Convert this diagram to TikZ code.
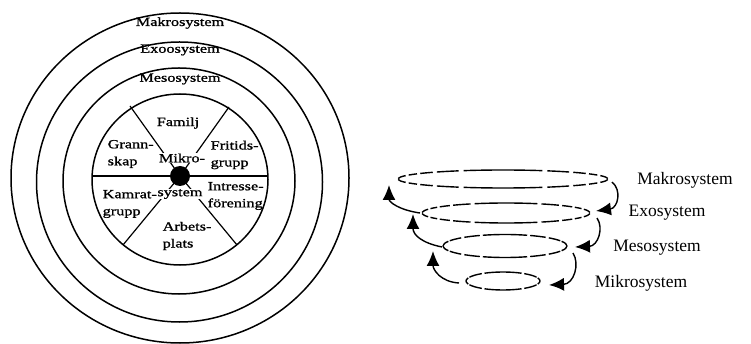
\documentclass[tikz,border=0pt]{standalone}
\usepackage{fontspec}
\setmainfont{Liberation Serif}
\newfontfamily\widefont[FakeStretch=1.3,FakeBold=1.2]{Liberation Serif}
\usetikzlibrary{arrows.meta}
\newcommand\dashedell[4]{% center, rx, ry, list of upper-half intervals a/b
  \foreach \p/\q in {#4} {
    \draw[ell] (#1) ++(\p:#2 and #3) arc[start angle=\p, end angle=\q, x radius=#2, y radius=#3];
    \draw[ell] (#1) ++(-\q:#2 and #3) arc[start angle=-\q, end angle=-\p, x radius=#2, y radius=#3];
  }}
\begin{document}
\begin{tikzpicture}[x=1pt,y=-1pt,
  ring/.style={line width=1.5pt},
  spoke/.style={line width=1.2pt},
  lbl/.style={font=\widefont\fontsize{12.5}{17}\selectfont, inner sep=0.5pt, align=left},
  rlbl/.style={font=\fontsize{17.5}{20}\selectfont, inner sep=0pt},
  ell/.style={line width=1.4pt},
  arr/.style={line width=1.4pt, -{Latex[length=15pt,width=13pt]}}]
\useasboundingbox (0,0) rectangle (751,344);
% ---- left: concentric rings ----
\coordinate (cmak) at (180,178);
\coordinate (cexo) at (179.5,182);
\coordinate (cmes) at (179,181);
\coordinate (cin) at (180,179.5);
\coordinate (hub) at (180,176);
\draw[ring] (cmak) ellipse [x radius=169pt, y radius=165pt];
\draw[ring] (cexo) ellipse [x radius=143pt, y radius=140pt];
\draw[ring] (cmes) ellipse [x radius=116pt, y radius=113pt];
\draw[ring] (cin) ellipse [x radius=88pt, y radius=85.5pt];
\coordinate (hl) at (92,176);
\coordinate (hr) at (268,176);
\coordinate (ul) at (130,106);
\coordinate (ur) at (229,107);
\coordinate (ll) at (123,245);
\coordinate (lr) at (237,245);
\draw[spoke] (hl) -- (hr);
\draw[spoke] (ul) -- (hub);
\draw[spoke] (ur) -- (hub);
\draw[spoke] (ll) -- (hub);
\draw[spoke] (lr) -- (hub);
\fill (hub) circle [radius=10pt];
\node[lbl] (tmak) at (180,23) {Makrosystem};
\node[lbl] (texo) at (180,50) {Exoosystem};
\node[lbl] (tmes) at (180,79) {Mesosystem};
\node[lbl] (tfam) at (178,123) {Familj};
\node[lbl, fill=white] (tmik) at (182,158) {Mikro-};
\node[lbl, fill=white] (tsys) at (180,194) {system};
\node[lbl, anchor=west] (tgra) at (107,154) {Grann-\\skap};
\node[lbl, anchor=west] (tfri) at (210,155) {Fritids-\\grupp};
\node[lbl, anchor=west] (tkam) at (102,204) {Kamrat-\\grupp};
\node[lbl, anchor=west] (tint) at (207,196) {Intresse-\\förening};
\node[lbl, anchor=west] (tarb) at (162,236) {Arbets-\\plats};
% ---- right: spiral of levels ----
\coordinate (emak) at (503,179);
\coordinate (eexo) at (506,213);
\coordinate (emes) at (505,246);
\coordinate (emik) at (503,281);
\dashedell{emak}{105pt}{9pt}{3/22,26/35,38/48,51/65,68/112,115/129,132/142,145/154,158/177}
\dashedell{eexo}{84pt}{10pt}{3/22,26/35,38/48,51/65,68/112,115/129,132/142,145/154,158/177}
\dashedell{emes}{62pt}{11.5pt}{0/24,27/45,49/66,69/111,114/131,135/153,156/180}
\dashedell{emik}{37pt}{9pt}{0/20,25/55,60/120,125/155,160/180}
\node[rlbl] (rmak) at (685,180) {Makrosystem};
\node[rlbl] (rexo) at (667,213) {Exosystem};
\node[rlbl] (rmes) at (657,248) {Mesosystem};
\node[rlbl] (rmik) at (641,283) {Mikrosystem};
\coordinate (a1s) at (612,182);
\coordinate (a1e) at (596,211);
\coordinate (a2s) at (597,218);
\coordinate (a2e) at (575,247);
\coordinate (a3s) at (573,253);
\coordinate (a3e) at (549,285);
\coordinate (a4s) at (459,283);
\coordinate (a4e) at (433,251);
\coordinate (a5s) at (442,247);
\coordinate (a5e) at (413,214);
\coordinate (a6s) at (420,213);
\coordinate (a6e) at (389,185);
\draw[arr] (a1s) .. controls (622,190) and (618,208) .. (a1e);
\draw[arr] (a2s) .. controls (604,228) and (598,246) .. (a2e);
\draw[arr] (a3s) .. controls (580,264) and (574,284) .. (a3e);
\draw[arr] (a4s) .. controls (441,282) and (433,270) .. (a4e);
\draw[arr] (a5s) .. controls (422,243) and (413,235) .. (a5e);
\draw[arr] (a6s) .. controls (399,210) and (389,202) .. (a6e);
\end{tikzpicture}
\end{document}
